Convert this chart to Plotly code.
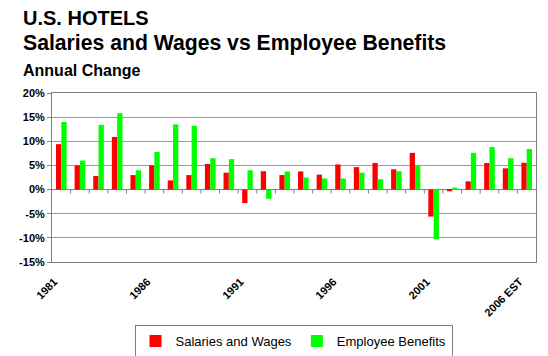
import plotly.graph_objects as go

years = [str(y) for y in range(1981, 2006)] + ["2006 EST"]
salaries = [9.4, 5.0, 2.8, 10.9, 3.0, 5.0, 1.9, 3.0, 5.3, 3.5, -2.8, 3.8, 3.0,
            3.75, 3.1, 5.2, 4.65, 5.5, 4.2, 7.6, -5.6, -0.35, 1.7, 5.5, 4.4, 5.55]
benefits = [14.0, 6.0, 13.4, 15.8, 4.0, 7.8, 13.5, 13.2, 6.5, 6.3, 4.0, -1.9, 3.75,
            2.5, 2.3, 2.3, 3.5, 2.15, 3.8, 5.0, -10.3, 0.4, 7.6, 8.8, 6.5, 8.4]
tick_labels = ["1981", "1986", "1991", "1996", "2001", "2006 EST"]
y_ticks = [-15, -10, -5, 0, 5, 10, 15, 20]

FONT = "Liberation Sans, Arial, sans-serif"
GRID = "#9a9a9a"

fig = go.Figure()
fig.add_trace(go.Bar(x=years, y=salaries, name="Salaries and Wages",
                     marker=dict(color="#ff0000", line=dict(width=0))))
fig.add_trace(go.Bar(x=years, y=benefits, name="Employee Benefits",
                     marker=dict(color="#00ff00", line=dict(width=0))))

# small tick marks on the zero line at category boundaries
shapes = []
for i in range(len(years) - 1):
    shapes.append(dict(type="line", xref="x", yref="y", ysizemode="pixel",
                       yanchor=0, x0=i + 0.5, x1=i + 0.5, y0=0, y1=-4,
                       line=dict(color="#808080", width=1)))

# page body has an 8px margin; work in window pixels and convert
OFF = 8
W, H = 548 - OFF, 356 - OFF
L, T = 52 - OFF, 93 - OFF
PR, PB = 536 - OFF, 262 - OFF
R, B = W - PR, H - PB
ph = PB - T
pw = PR - L

def py(pix):
    return (PB - (pix - OFF)) / ph

def px(pix):
    return ((pix - OFF) - L) / pw

annotations = [
    dict(text="<b>U.S. HOTELS</b>", x=px(21), y=py(18), xref="paper", yref="paper",
         xanchor="left", yanchor="middle", showarrow=False,
         font=dict(family=FONT, size=20, color="black")),
    dict(text="<b>Salaries and Wages vs Employee Benefits</b>", x=px(21), y=py(43),
         xref="paper", yref="paper", xanchor="left", yanchor="middle", showarrow=False,
         font=dict(family=FONT, size=21.2, color="black")),
    dict(text="<b>Annual Change</b>", x=px(21), y=py(70), xref="paper", yref="paper",
         xanchor="left", yanchor="middle", showarrow=False,
         font=dict(family=FONT, size=16, color="black")),
]

fig.update_layout(
    width=W, height=H,
    margin=dict(l=L, r=R, t=T, b=B, pad=0, autoexpand=False),
    paper_bgcolor="white", plot_bgcolor="white",
    barmode="group", bargap=0.43, bargroupgap=0,
    font=dict(family=FONT, color="black"),
    showlegend=True,
    legend=dict(orientation="h", x=px(293.5), xanchor="center", y=py(325), yanchor="top",
                bordercolor="#808080", borderwidth=1,
                font=dict(family=FONT, size=13, color="black"),
                itemwidth=30, tracegroupgap=0),
    shapes=shapes,
    annotations=annotations,
)
fig.update_xaxes(type="category", categoryorder="array", categoryarray=years,
                 tickmode="array", tickvals=tick_labels, ticktext=tick_labels,
                 tickangle=-45, ticks="", showgrid=False, zeroline=False,
                 showline=True, linecolor="#808080", linewidth=1, mirror=True,
                 automargin=False, ticklabelstandoff=8, ticklabelshift=-7,
                 tickfont=dict(family=FONT, size=11, color="black", weight="bold"),
                 range=[-0.5, len(years) - 0.5])
fig.update_yaxes(range=[-15, 20], tickmode="array", tickvals=y_ticks,
                 ticktext=[f"{v}%" for v in y_ticks],
                 ticks="outside", ticklen=4, tickcolor="#808080",
                 showgrid=True, gridcolor=GRID, gridwidth=1, automargin=False,
                 zeroline=True, zerolinecolor="#808080", zerolinewidth=1,
                 showline=True, linecolor="#808080", linewidth=1, mirror=True,
                 tickfont=dict(family=FONT, size=11, color="black", weight="bold"))

fig.write_html("out.html")
